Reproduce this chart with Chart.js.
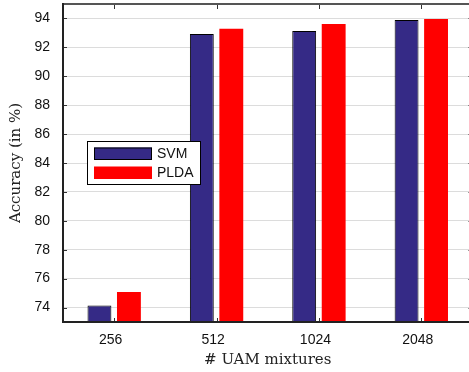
<!DOCTYPE html>
<html>
<head>
<meta charset="utf-8">
<script src="https://cdn.jsdelivr.net/npm/chart.js@4.4.1/dist/chart.umd.min.js"></script>
<style>
  html, body { margin: 0; padding: 0; overflow: hidden; background: #fff; }
  #wrap { position: relative; width: 474px; height: 372px; }
</style>
</head>
<body>
<div id="wrap"><canvas id="c"></canvas></div>
<script>
const categories = ['256', '512', '1024', '2048'];
const svmValues = [74.15, 92.93, 93.14, 93.9];
const pldaValues = [75.08, 93.28, 93.62, 93.97];
const yTickValues = [74, 76, 78, 80, 82, 84, 86, 88, 90, 92, 94];
const seriesNames = ['SVM', 'PLDA'];

const framePlugin = {
  id: 'frame',
  afterDraw(chart) {
    const ctx = chart.ctx;
    const a = chart.chartArea;
    const xs = chart.scales.x, ys = chart.scales.y;
    ctx.save();
    ctx.strokeStyle = '#333';
    ctx.lineWidth = 1;
    ctx.beginPath();
    yTickValues.forEach(v => {
      const y = Math.round(ys.getPixelForValue(v)) + 0.5;
      ctx.moveTo(a.left, y); ctx.lineTo(a.left + 4, y);
      ctx.moveTo(a.right, y); ctx.lineTo(a.right - 4, y);
    });
    categories.forEach((c, i) => {
      const x = Math.round(xs.getPixelForValue(i)) + 0.5;
      ctx.moveTo(x, a.top); ctx.lineTo(x, a.top + 5);
      ctx.moveTo(x, a.bottom); ctx.lineTo(x, a.bottom - 4);
    });
    ctx.stroke();
    ctx.lineWidth = 2;
    ctx.strokeStyle = '#555';
    ctx.beginPath();
    ctx.moveTo(a.left, a.top); ctx.lineTo(a.right, a.top); ctx.lineTo(a.right, a.bottom);
    ctx.stroke();
    ctx.strokeStyle = '#222';
    ctx.beginPath();
    ctx.moveTo(a.left, a.top - 1); ctx.lineTo(a.left, a.bottom); ctx.lineTo(a.right + 1, a.bottom);
    ctx.stroke();
    ctx.restore();
  }
};

const legendPlugin = {
  id: 'boxLegend',
  afterDraw(chart) {
    const ctx = chart.ctx;
    ctx.save();
    const bx = 87, by = 141, bw = 113, bh = 43;
    ctx.fillStyle = '#fff';
    ctx.fillRect(bx, by, bw, bh);
    ctx.strokeStyle = '#000';
    ctx.lineWidth = 1;
    ctx.strokeRect(bx + 0.5, by + 0.5, bw, bh);
    const rows = [147.5, 166.5];
    chart.data.datasets.forEach((ds, i) => {
      const sy = rows[i];
      ctx.fillStyle = ds.backgroundColor;
      ctx.fillRect(94, sy, 58, 12.5);
      if (ds.borderWidth) {
        ctx.strokeStyle = '#000';
        ctx.lineWidth = 1;
        ctx.strokeRect(94.5, sy + 0.5, 57, 11.5);
      }
      ctx.fillStyle = '#111';
      ctx.font = '14px "Liberation Sans", Arial, sans-serif';
      ctx.textBaseline = 'middle';
      ctx.textAlign = 'left';
      ctx.fillText(ds.label, 157, sy + 6.5);
    });
    ctx.restore();
  }
};

new Chart(document.getElementById('c'), {
  type: 'bar',
  data: {
    labels: categories,
    datasets: [
      { label: seriesNames[0], data: svmValues, backgroundColor: '#352a86', borderColor: '#000', borderWidth: 1,
        categoryPercentage: 0.576, barPercentage: 0.81 },
      { label: seriesNames[1], data: pldaValues, backgroundColor: '#ff0000', borderWidth: 0,
        categoryPercentage: 0.576, barPercentage: 0.81 }
    ]
  },
  options: {
    responsive: true,
    maintainAspectRatio: false,
    animation: false,
    layout: { padding: { top: 4, right: 1.5, left: 0, bottom: 0 } },
    plugins: { legend: { display: false }, tooltip: { enabled: false } },
    scales: {
      x: {
        grid: { display: false, drawTicks: false },
        border: { display: false },
        ticks: { color: '#111', font: { family: '"Liberation Sans", Arial, sans-serif', size: 14 }, padding: 10, labelOffset: -3.5, maxRotation: 0 },
        title: { display: true, text: '# UAM mixtures', color: '#222', font: { family: '"DejaVu Serif", serif', size: 15 }, padding: { top: 0, bottom: 3 } },
        afterFit(s) { s.height = 50; s.paddingLeft = 0; s.paddingRight = 0; s.paddingTop = 0; s.paddingBottom = 0; }
      },
      y: {
        min: 73,
        max: 95,
        afterBuildTicks(s) { s.ticks = yTickValues.map(v => ({ value: v })); },
        grid: { color: '#dcdcdc', lineWidth: 1, drawTicks: false },
        border: { display: false },
        ticks: { color: '#111', font: { family: '"Liberation Sans", Arial, sans-serif', size: 14 }, padding: 13 },
        title: { display: true, text: 'Accuracy (in %)', color: '#222', font: { family: '"DejaVu Serif", serif', size: 15 }, padding: { top: 7, bottom: 0 } },
        afterFit(s) { s.width = 63; s.paddingLeft = 0; s.paddingRight = 0; s.paddingTop = 0; s.paddingBottom = 0; }
      }
    }
  },
  plugins: [framePlugin, legendPlugin]
});
</script>
</body>
</html>
